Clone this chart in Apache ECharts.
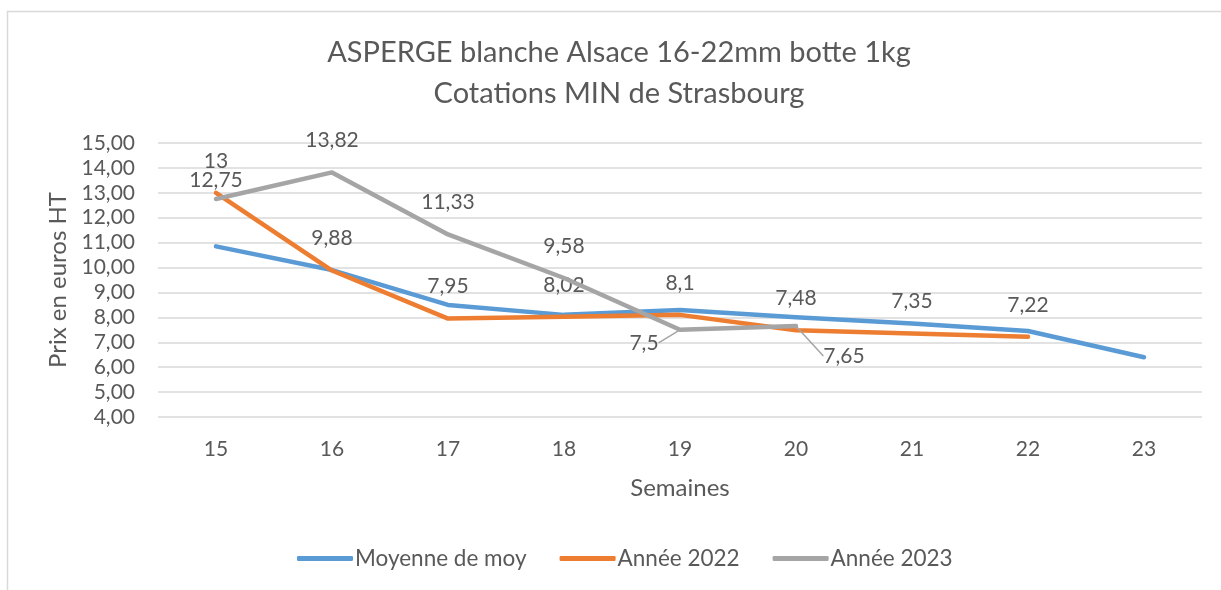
<!DOCTYPE html>
<html><head><meta charset="utf-8">
<script src="https://cdn.jsdelivr.net/npm/echarts@6/dist/echarts.min.js"></script>
<style>html,body{margin:0;padding:0;background:#fff}#c{width:1221px;height:590px}</style>
</head><body><div id="c"></div>
<script>
const weeks = ['15','16','17','18','19','20','21','22','23'];
const moyenne = [10.85, 9.9, 8.5, 8.1, 8.3, 8.0, 7.75, 7.45, 6.4];
const annee2022 = [13, 9.88, 7.95, 8.02, 8.1, 7.48, 7.35, 7.22, null];
const annee2023 = [12.75, 13.82, 11.33, 9.58, 7.5, 7.65, null, null, null];
const yTicks = [4, 5, 6, 7, 8, 9, 10, 11, 12, 13, 14, 15];

const FONT = 'Lato';
const TXT = '#595959';
const fmt = v => String(v).replace('.', ',');

const chart = echarts.init(document.getElementById('c'));
const labelBase = {show: true, position: 'top', distance: 21, color: TXT, fontFamily: FONT, fontSize: 21,
  formatter: p => fmt(p.value)};

const data2023 = annee2023.map((v, i) => {
  if (i === 0) return {value: v, label: {distance: 8}};
  if (i === 4 || i === 5) return {value: v, labelLine: {show: true}};
  return v;
});

chart.setOption({
  animation: false,
  title: {
    text: 'ASPERGE blanche Alsace 16-22mm botte 1kg\nCotations MIN de Strasbourg',
    left: 614, textAlign: 'center', top: 27,
    textStyle: {fontFamily: FONT, fontSize: 29, fontWeight: 'normal', color: TXT, lineHeight: 41}
  },
  graphic: [{type: 'rect', shape: {x: 7.5, y: 11.5, width: 1240, height: 600},
    style: {fill: 'none', stroke: '#d9d9d9', lineWidth: 1.5}, silent: true}],
  legend: {
    bottom: 15, left: 292,
    icon: 'roundRect', itemWidth: 56, itemGap: 33, itemHeight: 5,
    textStyle: {fontFamily: FONT, fontSize: 22.5, color: TXT, padding: [0, 0, 0, -3]},
    data: ['Moyenne de moy', 'Année 2022', 'Année 2023']
  },
  grid: {left: 158, right: 19, top: 143, bottom: 173},
  xAxis: {
    type: 'category', data: weeks, boundaryGap: true,
    name: 'Semaines', nameLocation: 'middle', nameGap: 59,
    nameTextStyle: {fontFamily: FONT, fontSize: 24, color: TXT},
    axisLine: {show: false}, axisTick: {show: false},
    axisLabel: {margin: 22, fontFamily: FONT, fontSize: 21, color: TXT}
  },
  yAxis: {
    type: 'value', min: yTicks[0], max: yTicks[yTicks.length - 1], interval: 1,
    name: 'Prix en euros HT', nameLocation: 'middle', nameGap: 84, nameRotate: 90,
    nameTextStyle: {fontFamily: FONT, fontSize: 24, color: TXT},
    axisLine: {show: false}, axisTick: {show: false},
    axisLabel: {margin: 23, fontFamily: FONT, fontSize: 21, color: TXT, formatter: v => v.toFixed(2).replace('.', ',')},
    splitLine: {lineStyle: {color: '#d9d9d9', width: 1.5}}
  },
  series: [
    {name: 'Moyenne de moy', type: 'line', data: moyenne, symbol: 'none', color: '#5B9BD5',
      lineStyle: {width: 4.5, cap: 'round', join: 'round'}, z: 2},
    {name: 'Année 2022', type: 'line', data: annee2022, symbol: 'circle', symbolSize: 1, color: '#ED7D31',
      lineStyle: {width: 4.5, cap: 'round', join: 'round'}, label: labelBase, z: 3},
    {name: 'Année 2023', type: 'line', data: data2023, symbol: 'circle', symbolSize: 1, color: '#A5A5A5',
      lineStyle: {width: 4.5, cap: 'round', join: 'round'}, label: labelBase, z: 4,
      labelLine: {show: false, lineStyle: {color: '#A5A5A5', width: 1.5}},
      labelLayout: function (p) {
        if (p.dataIndex === 4) return {dx: -36, dy: 45};
        if (p.dataIndex === 5) return {dx: 48, dy: 62};
        return {};
      }}
  ]
});
</script></body></html>
